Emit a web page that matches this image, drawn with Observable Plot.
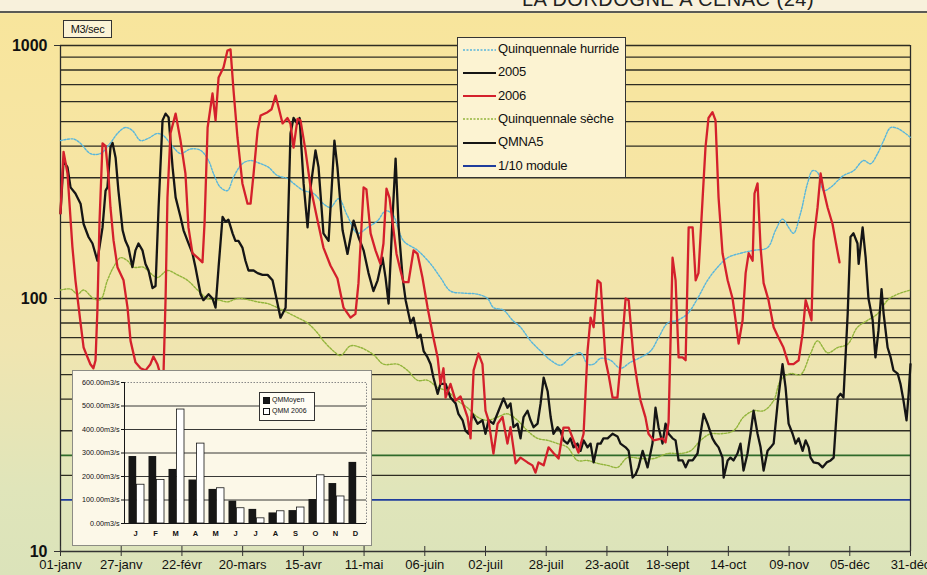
<!DOCTYPE html>
<html>
<head>
<meta charset="utf-8">
<script src="https://cdn.jsdelivr.net/npm/d3@7"></script>
<script src="https://cdn.jsdelivr.net/npm/@observablehq/plot@0.6"></script>
<style>
html,body{margin:0;padding:0;}
body{width:927px;height:575px;overflow:hidden;font-family:"Liberation Sans",Arial,sans-serif;}
#wrap{position:relative;width:927px;height:575px;overflow:hidden;
 background:linear-gradient(to bottom,#f8f1dc 0px,#f8f1dc 11px,#f8e59c 14px,#f6e5a4 30%,#f0e5b0 60%,#e0e5ba 85%,#dbe3ba 100%);}
#title{position:absolute;top:-12px;left:522px;font-size:20px;font-weight:normal;color:#222;white-space:nowrap;letter-spacing:0.5px;}
#topline{position:absolute;left:0;top:11px;width:927px;height:2px;background:#5a5a55;}
#main{position:absolute;left:0;top:0;}
#unit{position:absolute;left:63px;top:20px;width:47px;height:16px;border:1px solid #333;background:#fbf3d6;font-size:11px;line-height:16px;text-align:center;color:#111;letter-spacing:-0.3px;}
#legend{position:absolute;left:457px;top:37px;width:167px;height:139px;border:1px solid #333;background:#fcf3d2;}
.lg{position:absolute;left:5px;height:16px;font-size:13px;line-height:16px;color:#111;white-space:nowrap;letter-spacing:-0.2px;}
.lg svg{vertical-align:middle;margin-right:2px;}
#inset{position:absolute;left:72px;top:370px;width:298px;height:174px;border:1px solid #8c8c84;background:#fcf8e8;}
#insetLegend{position:absolute;left:186px;top:21px;width:54px;height:27px;border:1px solid #333;background:#fffdf4;font-size:7px;color:#111;}
.il{position:absolute;left:3px;white-space:nowrap;}
.sq{display:inline-block;width:5px;height:5px;margin-right:2px;vertical-align:middle;border:0.8px solid #111;}
</style>
</head>
<body>
<div id="wrap">
  <div id="main"></div>
  <div id="topline"></div>
  <div id="title">LA DORDOGNE A CENAC (24)</div>
  <div id="unit">M3/sec</div>
  <div id="legend"></div>
  <div id="inset"><div id="insetPlot"></div><div id="insetLegend"></div></div>
</div>
<script>
// ---------- DATA ----------
const xTickDays = [0,26,52,78,104,130,156,182,208,234,260,286,312,338,364];
const xTickLabels = ["01-janv","27-janv","22-févr","20-mars","15-avr","11-mai","06-juin","02-juil","28-juil","23-août","18-sept","14-oct","09-nov","05-déc","31-déc"];
const yLabelValues = [10,100,1000];
const gridValues = [20,30,40,50,60,70,80,90,100,200,300,400,500,600,700,800,900,1000];
const qmna5 = 24;
const module10 = 16;

const days2006 = [0,1.3,3.0,5.1,6.4,8.6,9.9,11.1,12.8,14.1,15.0,15.8,16.7,18.0,19.3,20.6,21.4,22.7,24.4,27.0,28.7,30.0,32.1,34.3,36.4,38.5,39.8,41.5,42.8,44.1,45.0,45.8,47.1,49.3,51.4,53.5,54.8,56.5,58.7,60.8,61.7,63.0,65.1,66.4,67.7,69.8,71.5,72.8,74.1,75.8,77.9,80.1,81.4,82.7,84.4,85.7,88.7,90.4,92.1,93.4,95.1,97.2,98.5,99.8,101.5,102.8,104.9,107.1,110.1,112.6,115.6,118.6,121.2,124.2,126.3,127.6,129.8,131.0,132.8,134.9,137.0,138.3,139.6,140.9,142.2,143.9,145.6,146.9,149.0,151.2,152.9,155.0,157.2,159.7,161.5,162.7,164.0,164.9,167.0,169.2,171.3,174.3,175.6,176.9,179.0,180.7,182.0,183.3,185.4,187.2,189.3,191.4,192.7,194.9,197.0,200.0,202.1,203.4,204.7,206.9,209.0,211.1,213.3,215.4,217.6,219.7,221.8,224.0,225.7,227.0,228.3,230.0,231.3,233.4,234.7,236.4,238.5,239.8,242.0,243.3,245.4,247.1,248.4,250.5,251.8,254.0,257.8,259.1,260.4,262.1,263.4,264.7,266.4,267.7,269.0,270.7,272.0,273.2,275.0,276.2,277.5,279.2,280.5,281.8,283.5,285.7,287.8,289.1,290.4,292.1,293.4,294.7,296.4,297.2,298.5,299.8,301.1,303.2,305.4,307.5,309.6,311.8,313.9,316.1,317.8,319.1,320.4,321.6,322.5,324.2,325.5,326.8,328.5,330.6,331.9,333.6];
const flow2006 = [217,380,312,160,118,80,64,60,55,53,57,90,200,410,400,300,229,170,133,118,92,68,56,53,52,55,59,55,50,50,100,250,450,538,421,312,191,151,145,139,200,474,646,506,748,818,955,965,664,432,285,237,237,312,461,529,545,560,634,569,492,517,490,395,513,505,385,275,203,159,135,120,92,84,87,115,275,270,181,155,137,165,272,250,200,150,129,116,116,155,150,121,92,70,58.5,46,53,40.6,46,39.5,41,34,28,52,60.6,55,36,33,24.4,32,34,26.7,31,22.3,23.5,22.5,21.9,20.5,22.5,21.9,25.8,24.5,23.3,30.9,30.9,27.5,24.6,29.2,62,84,77,118,115,57,50,40.6,40.6,55,100,98.5,58.5,46,39.5,33.9,29.2,27.5,28,27,32.4,145,118,58.5,58.5,57,191,191,118,126,251,395,517,545,506,251,151,118,100,82,66.4,82,126,151,141,260,285,159,115,98.5,77,70,64,55,55,57,72.8,98.5,90,82,169,229,312,267,229,197,169,139];

const days2005 = [0,1.3,3.0,4.3,6.4,8.6,9.9,12.0,13.7,15.8,18.0,19.3,20.1,21.4,22.3,23.6,24.8,26.6,27.8,29.1,30.8,32.1,33.4,35.1,36.4,37.7,39.4,40.7,42.0,43.7,45.0,46.3,48.0,49.3,51.4,52.7,54.4,56.5,57.8,60.0,61.2,63.4,65.1,66.4,67.7,69.4,70.7,71.9,73.7,74.9,76.2,77.9,79.2,80.5,82.7,84.4,86.5,88.7,90.8,92.1,94.2,96.4,97.6,98.5,99.8,101.5,102.4,104.1,105.8,107.1,109.2,110.5,112.6,114.8,116.5,117.3,118.6,120.8,122.9,125.5,127.6,129.8,131.9,134.0,135.8,137.9,139.2,140.5,142.2,143.5,144.8,146.5,147.8,149.9,151.2,152.9,154.2,155.5,157.2,158.5,159.7,161.5,162.7,164.9,167.0,169.2,170.4,172.2,173.4,174.7,176.4,178.6,180.7,182.0,183.3,185.4,187.6,189.7,191.4,192.7,194.0,195.7,197.0,198.3,200.0,201.3,202.6,204.3,205.6,206.9,208.6,209.9,211.1,212.9,214.1,215.4,217.1,218.4,219.7,221.4,222.7,224.0,225.7,227.0,228.3,230.0,231.3,232.5,234.3,236.4,238.5,239.8,242.0,243.3,245.0,246.3,247.5,249.3,251.4,253.5,254.8,256.1,257.8,259.1,260.4,262.1,263.4,264.7,266.4,267.7,269.0,270.7,272.8,274.1,275.4,277.1,279.2,280.5,281.8,283.5,284.0,285.7,286.9,288.2,289.9,291.2,292.5,294.2,295.5,296.8,298.5,299.8,301.1,302.8,304.1,305.4,307.1,309.2,310.5,311.8,313.5,314.8,316.1,317.8,319.1,320.4,321.2,322.5,324.6,326.3,328.1,329.8,331.1,332.8,334.0,335.3,337.1,338.3,339.6,341.3,341.8,343.5,344.8,346.0,347.8,349.0,350.3,351.6,352.5,354.2,355.5,356.7,358.5,359.7,361.0,362.3,363.2,364.0];
const flow2005 = [217,351,330,275,260,237,197,175,165,141,191,267,275,395,412,360,267,186,169,159,133,155,165,155,137,129,110,112,229,506,538,520,330,251,210,186,169,151,133,104,98.5,104,100,92,133,210,201,205,181,169,169,159,141,129,129,126,124,124,118,104,84,92,229,449,517,490,517,285,191,275,385,330,181,169,312,421,330,186,150,203,175,155,126,107,118,145,121,95.5,210,357,191,121,98.5,80,84,70,72,62,58.5,55,48.7,42,46,46,40.6,38.5,35,33,30,29.2,35,32,33,29.2,33,32,36,40.3,37,38.5,31,32,28,34,36,33,31,32,38.5,48.7,43,34,29.2,31,30,27.5,26.7,28,25.8,26.7,25,27.5,25.8,26.7,22.5,26.7,26.7,28,28,29.2,28.5,26.7,25.8,25,19.6,20.2,21.5,25,21.5,26.7,37,31,26.7,32,29.2,28,27.5,22.9,22.9,21.5,22.9,22.9,24.4,29.2,35,32,28,26.7,25.8,23.5,19.6,22.9,23.5,22.9,24.4,26.7,20.9,24.4,29.2,36,29.2,25.8,20.9,25,25.8,26.7,38.5,55,44.5,32,29.2,26.7,28,25,27.5,25.8,23.5,22.5,22.3,21.5,22.5,22.9,23.5,40.6,42,40.6,87,175,181,165,137,191,145,100,82,58.5,74.8,109,87,64,58.5,52,50.5,46,39.5,33,42,55];

const daysHumide = [0,5.6,8.6,12.8,17.1,21.4,24.4,27.8,30.8,34.3,37.7,41.5,44.1,48.4,51.4,55.7,60.0,63.4,65.5,68.5,71.5,74.1,77.9,81.4,85.7,89.1,92.9,97.2,99.8,104.1,108.4,112.6,115.6,119.1,122.9,127.2,131.5,135.8,139.2,142.2,146.9,152.9,158.5,162.7,167.0,172.6,178.6,182.9,185.4,189.7,193.6,197.0,201.3,205.6,209.9,214.1,218.4,222.7,225.7,228.3,231.3,235.5,239.8,244.1,248.4,252.7,256.1,260.0,264.2,268.5,272.8,277.1,281.4,285.7,291.2,296.8,302.8,306.2,309.2,311.8,313.9,316.9,319.9,322.1,324.2,326.8,329.8,332.8,335.3,339.6,343.9,346.9,349.9,352.5,355.5,358.5,361.0,364.0];
const flowHumide = [421,427,410,374,374,412,449,474,461,421,430,449,440,395,374,390,385,351,312,275,267,302,341,351,341,330,306,298,285,267,260,237,229,248,212,181,191,203,222,215,169,155,137,121,107,105,104,100,92,90,82,77,68,62,57,54.5,58.5,61,55,55,58,57,53,56,58.5,62,70,80,82,87,100,118,133,145,151,155,159,186,206,191,181,217,285,320,315,267,275,292,306,320,351,341,374,421,474,470,455,433];

const daysSeche = [0,4.3,7.3,9.9,14.1,17.1,20.1,22.7,25.7,28.7,31.3,35.5,38.5,41.5,45.8,50.1,54.4,58.7,63.0,67.2,71.5,75.8,80.1,84.4,88.7,92.9,97.2,101.5,105.8,110.1,112.6,116.9,119.9,124.2,128.5,134.0,138.3,144.3,148.6,152.9,157.2,161.5,165.7,170.0,174.3,178.6,182.9,187.2,191.4,195.7,200.0,204.3,208.6,212.9,217.1,221.4,225.7,230.0,234.3,238.5,242.8,248.4,254.0,260.0,265.5,269.8,274.1,278.4,282.7,288.2,292.5,296.8,301.1,305.4,308.4,312.6,316.9,321.2,324.2,328.5,332.8,337.1,341.3,345.6,349.9,354.2,358.5,364.0];
const flowSeche = [108,109,104,108,100,99,118,133,145,141,133,133,126,121,129,124,118,108,100,99,97,100,99,97,95.5,92,88,84,80,73,68,62,59.5,65,64,60,55,55,52,47.5,47.5,44.5,43,39.5,37,34,33,34,35,33,30,28,27.5,26.7,25.8,22.9,22.9,22.3,21.9,21.5,23.5,23.3,23.3,24.4,24.4,25,27.5,29.2,29.2,30,34,36,36,39.5,47.5,50.5,50,60.6,68,61,64,66,77,82,87,98.5,104,108];

const legendLabels = ["Quinquennale hurride","2005","2006","Quinquennale sèche","QMNA5","1/10 module"];
const legendColors = ["#58b6dc","#151515","#d4202c","#93b53c","#151515","#1f3c9c"];
const legendDash = ["2,1.5",null,null,"2,1.5",null,null];

const monthLabels = ["J","F","M","A","M","J","J","A","S","O","N","D"];
const qmMoyen = [285,285,230,185,145,95,60,45,55,102,170,260];
const qmm2006 = [165,185,485,340,150,65,22,52,68,205,115,null];
const insetTicks = [0,100,200,300,400,500,600];
const insetLegendLabels = ["QMMoyen","QMM 2006"];

// ---------- BUILD ----------
const zipSeries = (days, vals) => days.map((d, i) => ({d, v: vals[i]}));
const s2006 = zipSeries(days2006, flow2006);
const s2005 = zipSeries(days2005, flow2005);
const sHum = zipSeries(daysHumide, flowHumide);
const sSec = zipSeries(daysSeche, flowSeche);

const FONT = "Liberation Sans, Arial, sans-serif";

const main = Plot.plot({
  width: 927, height: 575,
  marginLeft: 60, marginRight: 17, marginTop: 45, marginBottom: 24,
  style: {background: "transparent", fontFamily: FONT, color: "#111", overflow: "visible"},
  x: {domain: [0, 364], label: null},
  y: {type: "log", domain: [10, 1000], label: null},
  marks: [
    Plot.ruleY(gridValues, {stroke: "#2e2c22", strokeWidth: 1.35}),
    Plot.ruleY([qmna5], {stroke: "#2f6a2a", strokeWidth: 1.8}),
    Plot.ruleY([module10], {stroke: "#1f3c9c", strokeWidth: 1.8}),
    Plot.ruleY([10], {stroke: "#333", strokeWidth: 1.3}),
    Plot.ruleX([0, 364], {stroke: "#2a2a2a", strokeWidth: 1.3}),
    Plot.line(sHum, {x: "d", y: "v", stroke: "#58b6dc", strokeWidth: 1.4, strokeDasharray: "2,1.5", curve: "catmull-rom"}),
    Plot.line(sSec, {x: "d", y: "v", stroke: "#93b53c", strokeWidth: 1.4, strokeDasharray: "2,1.5", curve: "catmull-rom"}),
    Plot.line(s2005, {x: "d", y: "v", stroke: "#151515", strokeWidth: 2.3}),
    Plot.line(s2006, {x: "d", y: "v", stroke: "#d4202c", strokeWidth: 2.3}),
    Plot.axisY({ticks: yLabelValues, tickSize: 6, tickPadding: 7, tickFormat: d => String(d), fontSize: 16, fontWeight: "bold", label: null, stroke: "#333"}),
    Plot.axisX({ticks: xTickDays, tickSize: 10, dy: -5, tickFormat: () => "", label: null, stroke: "#333"}),
    Plot.axisX({ticks: xTickDays, tickSize: 0, tickPadding: 8, tickFormat: d => xTickLabels[xTickDays.indexOf(d)], fontSize: 13, label: null})
  ]
});
document.getElementById("main").appendChild(main);

// main legend
const lg = document.getElementById("legend");
legendLabels.forEach((lab, i) => {
  const div = document.createElement("div");
  div.className = "lg";
  div.style.top = (3 + i * 23.3) + "px";
  const dash = legendDash[i] ? `stroke-dasharray="${legendDash[i]}"` : "";
  const w = legendDash[i] ? 1.4 : 2.2;
  div.innerHTML = `<svg width="33" height="6"><line x1="0" y1="3" x2="33" y2="3" stroke="${legendColors[i]}" stroke-width="${w}" ${dash}/></svg>${lab}`;
  lg.appendChild(div);
});

// inset bar chart
const insetData = monthLabels.map((m, i) => ({i, moyen: qmMoyen[i], q2006: qmm2006[i]}));
const inset = Plot.plot({
  width: 298, height: 174,
  marginLeft: 51, marginRight: 5, marginTop: 11, marginBottom: 22,
  style: {background: "transparent", fontFamily: FONT, color: "#111", overflow: "visible"},
  x: {domain: d3.range(12), padding: 0, label: null},
  y: {domain: [0, 600], label: null},
  marks: [
    Plot.frame({stroke: "#888", strokeDasharray: "1.5,1.5"}),
    Plot.ruleY(insetTicks.filter(t => t > 0 && t < 600), {stroke: "#222", strokeWidth: 0.9}),
    Plot.barY(insetData, {x: "i", y: "moyen", fill: "#161616", insetLeft: 3.5, insetRight: 8.8}),
    Plot.barY(insetData.filter(d => d.q2006 != null), {x: "i", y: "q2006", fill: "#ffffff", stroke: "#161616", strokeWidth: 0.8, insetLeft: 11.5, insetRight: 1}),
    Plot.frame({anchor: "left", stroke: "#161616"}),
    Plot.ruleY([0], {stroke: "#161616", strokeWidth: 1}),
    Plot.axisY({ticks: insetTicks, tickSize: 3, tickPadding: 2, tickFormat: d => d.toFixed(2) + "m3/s", fontSize: 7.2, label: null}),
    Plot.axisX({tickSize: 0, tickPadding: 7, tickFormat: i => monthLabels[i], fontSize: 7.5, fontWeight: "bold", label: null})
  ]
});
document.getElementById("insetPlot").appendChild(inset);

const il = document.getElementById("insetLegend");
insetLegendLabels.forEach((lab, i) => {
  const div = document.createElement("div");
  div.className = "il";
  div.style.top = (3 + i * 11) + "px";
  div.innerHTML = `<span class="sq" style="background:${i === 0 ? "#161616" : "#fff"}"></span>${lab}`;
  il.appendChild(div);
});
</script>
</body>
</html>
